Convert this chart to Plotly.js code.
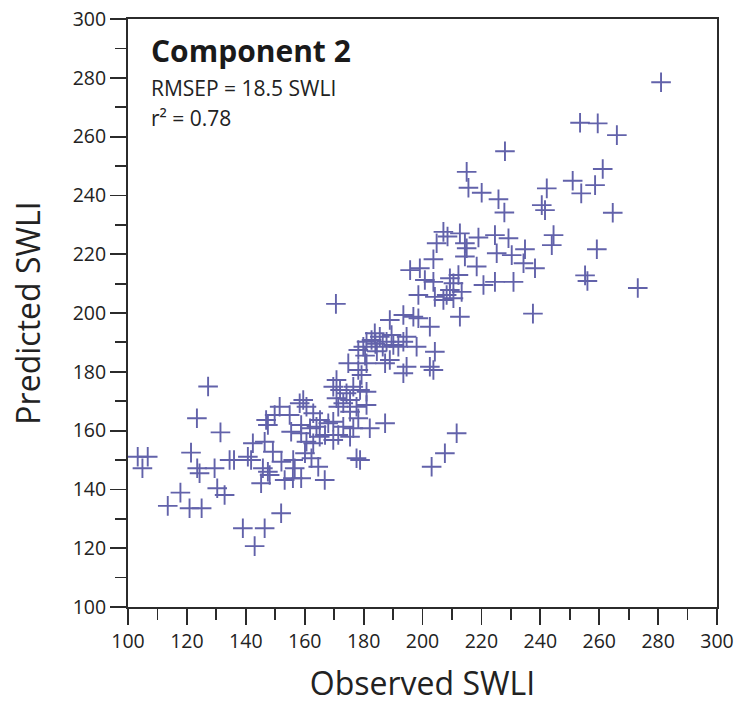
<!DOCTYPE html>
<html>
<head>
<meta charset="utf-8">
<script src="https://cdn.plot.ly/plotly-3.0.1.min.js"></script>
<style>html,body{margin:0;padding:0;background:#fff;}#chart{width:745px;height:722px;}</style>
</head>
<body>
<div id="chart"></div>
<script>
// Observed SWLI (x) and Predicted SWLI (y)
const observedSWLI = [
  103.3,106.7,104.9,113.5,117.8,120.9,121.4,123.4,123.5,124.3,125,127.2,129.4,130.3,131.4,132.8,134.5,136,139,
  140.7,141.8,142.4,143,145.2,145.8,146.4,146.4,146.9,147.5,147.5,148.1,149.2,149.8,151.5,152,152.1,153.2,154.9,155.4,156,156.1,156.6,158.3,158.8,158.8,158.8,
  159.5,160.6,160.1,160.6,161.8,162.3,162.9,162.9,164,164.6,165.2,165.1,166.8,166.9,168,169.7,169.7,169.7,170.6,
  170.8,170.8,171.4,171.4,172,173.1,173.1,174.2,174.8,175.4,175.4,175.4,176.5,176.5,177.6,177.6,178.8,178.2,178.2,178.2,178.8,179.3,179.9,181,181,181,181,182.1,182.7,183.8,185.5,187.3,187.3,187.8,188.9,188.9,184,186.5,184.5,189.5,180.5,
  190.1,191.8,193.5,194.6,198,204.2,194.6,202.5,203.7,193.5,193.5,196.9,198.6,202.5,212.7,203.1,207.6,211.6,
  281,253.5,259.5,266,228,261.2,215,251,258.6,215.6,242.2,253.9,220.1,225.8,227.8,240.5,241.6,264.6,
  207.1,212.7,208.5,219,224.6,229.2,244.5,243.9,204.8,214.4,215,234.8,259.2,225.2,230.3,203.7,214.4,234.3,238.2,218.4,
  195.8,199.1,255.2,256,200.8,203.7,209.3,212.2,210.5,220.7,224.6,230.9,273.1,198.6,204.2,208.2,213.3,207.1,209.3,210.5,237.5
];
const predictedSWLI = [
  151.1,151.1,147.2,134.4,138.9,133.6,152.5,164.2,147.2,145.5,133.6,175,147.2,140.4,159.4,138.1,150,150,126.8,
  151.1,150,155.7,120.7,142.1,147.2,126.8,156.2,163.6,161.9,146,144.9,152.8,165.3,168.1,131.9,149.4,143.2,165.3,159.6,143.8,150,147.2,169.3,143.8,161.9,159.1,
  170.4,168.1,152.3,156.2,160.8,150.6,165.9,155.7,161.3,147.7,163.6,157.9,143.2,158.5,162.5,156.8,163,174.9,203.1,
  177.2,171,168.1,158.5,173.8,169.3,161.3,172.7,182.9,170.4,166.4,157.9,174.9,160.8,168.1,150.6,150,187.4,180.6,164.2,173.8,178.9,188.5,190.2,182.9,173.2,168.7,160.8,190.8,193.1,191.9,162.5,182.9,190.2,197.6,184,189.5,188.5,187,192.5,185.5,
  189.1,188.5,190.2,191.9,188.5,186.8,181.7,181.7,180.6,179.5,199.3,198.7,198.2,195.3,198.7,147.7,152.3,159.1,
  278.5,264.7,264.5,260.5,255,249,248,245,243.5,242.6,242.4,240.7,240.9,238.7,234.2,236.7,235,234.1,
  227.6,227.1,226,225.7,226.5,225.4,226.5,223.1,223.7,223.7,222,221.7,221.7,220.3,219.7,218.3,219.2,216.9,215.2,215.8,
  214.6,215.2,212.8,210.9,211.2,210.6,211.8,212.9,210.1,209.5,210.6,210.6,208.5,206.1,205.5,206.1,207.2,204.4,207.8,205,199.8
];
const tickValues = [100,120,140,160,180,200,220,240,260,280,300];
const annotationLines = ['Component 2', 'RMSEP = 18.5 SWLI', 'r² = 0.78'];

const FONT = '"Open Sans", "Noto Sans", sans-serif';
const axisColor = '#2b2b2b';

const axisCommon = {
  range: [100, 300],
  tickvals: tickValues,
  ticktext: tickValues.map(String),
  ticks: 'outside',
  ticklen: 16,
  tickwidth: 1.8,
  tickcolor: axisColor,
  showline: true,
  linewidth: 2,
  linecolor: axisColor,
  mirror: true,
  showgrid: false,
  zeroline: false,
  tickfont: {family: FONT, size: 19.5, color: '#222'},
  minor: {dtick: 10, tick0: 100, ticks: 'outside', ticklen: 11, tickwidth: 1.8, tickcolor: axisColor, showgrid: false}
};

const trace = {
  type: 'scatter',
  mode: 'markers',
  x: observedSWLI,
  y: predictedSWLI,
  marker: {
    symbol: 'cross-thin',
    size: 14,
    color: '#6262aa',
    line: {color: '#6262aa', width: 1.9}
  },
  hoverinfo: 'x+y'
};

const layout = {
  width: 745,
  height: 722,
  margin: {l: 128, r: 28, t: 19, b: 115},
  paper_bgcolor: '#fff',
  plot_bgcolor: '#fff',
  showlegend: false,
  xaxis: Object.assign({}, axisCommon, {
    title: {text: 'Observed SWLI', font: {family: FONT, size: 32, color: '#222'}, standoff: 19}
  }),
  yaxis: Object.assign({}, axisCommon, {
    title: {text: 'Predicted SWLI', font: {family: FONT, size: 32, color: '#222'}, standoff: 22}
  }),
  annotations: [
    {text: '<b>' + annotationLines[0] + '</b>', xref: 'paper', yref: 'paper', x: 0.035, y: 0.947, xanchor: 'left', yanchor: 'middle', showarrow: false, font: {family: FONT, size: 30, color: '#1a1a1a'}},
    {text: annotationLines[1], xref: 'paper', yref: 'paper', x: 0.035, y: 0.883, xanchor: 'left', yanchor: 'middle', showarrow: false, font: {family: FONT, size: 21, color: '#222'}},
    {text: annotationLines[2], xref: 'paper', yref: 'paper', x: 0.035, y: 0.832, xanchor: 'left', yanchor: 'middle', showarrow: false, font: {family: FONT, size: 21, color: '#222'}}
  ]
};

Plotly.newPlot('chart', [trace], layout, {displayModeBar: false, staticPlot: true});
</script>
</body>
</html>
